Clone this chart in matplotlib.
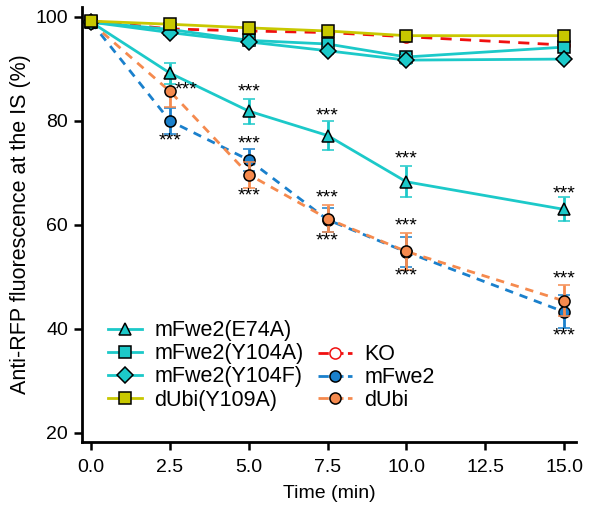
import matplotlib
matplotlib.use("Agg")
import matplotlib.pyplot as plt
from matplotlib.lines import Line2D

plt.rcParams['font.family'] = ['Liberation Sans', 'DejaVu Sans']

time = [0.0, 2.5, 5.0, 7.5, 10.0, 15.0]

e74a = [99.0, 89.2, 81.9, 77.2, 68.3, 63.0]
e74a_err = [0.8, 2.0, 2.4, 2.7, 3.0, 2.3]
y104a = [99.0, 97.6, 95.5, 94.8, 92.3, 94.2]
y104a_err = [0.5, 0.6, 0.7, 0.8, 0.8, 0.8]
y104f = [99.0, 97.0, 95.2, 93.5, 91.7, 91.9]
y104f_err = [0.5, 0.5, 0.6, 0.6, 0.7, 0.6]
dubi_y109a = [99.2, 98.6, 97.9, 97.3, 96.4, 96.4]
dubi_y109a_err = [0.4, 0.5, 0.5, 0.6, 0.7, 0.7]
ko = [99.2, 97.7, 97.3, 97.0, 96.2, 94.6]
mfwe2 = [99.0, 80.0, 72.5, 61.0, 54.8, 43.3]
mfwe2_err = [0.5, 2.5, 2.2, 2.3, 2.8, 3.2]
dubi = [98.9, 85.7, 69.7, 61.2, 54.9, 45.4]
dubi_err = [0.5, 3.0, 2.5, 2.6, 3.6, 3.0]

stars_above = [(2.5, 85.9, 'e74'), (5.0, 85.6, ''), (7.5, 81.0, ''), (10.0, 72.6, ''),
               (15.0, 66.0, ''), (5.0, 75.6, ''), (7.5, 65.2, ''), (10.0, 59.8, ''),
               (15.0, 49.7, '')]
stars_below = [(2.5, 76.2), (5.0, 65.6), (7.5, 56.9), (10.0, 50.1), (15.0, 38.6)]

cyan = '#1CC9C9'
olive = '#C8C800'
red = '#F01010'
blue = '#1A80CC'
orange = '#F58A4E'

fig = plt.figure(figsize=(5.93, 5.05), dpi=100)
ax = fig.add_axes([0.1383, 0.1248, 0.9713 - 0.1383, 0.986 - 0.1248])

lw = 2.0
ms = 8
cap = 4

def plot_series(y, err, color, marker, ls, mfc, z, dashes=None):
    kw = dict(color=color, lw=lw, ls=ls, marker=marker, ms=ms, mfc=mfc,
              mec='black' if mfc != 'white' else color, mew=1.1,
              ecolor=color, elinewidth=2, capsize=cap, capthick=2, zorder=z)
    if err is None:
        h = ax.plot(time, y, **{k: v for k, v in kw.items()
                               if k not in ('ecolor', 'elinewidth', 'capsize', 'capthick')})[0]
    else:
        h = ax.errorbar(time, y, yerr=err, **kw)
        h = h[0]
    if dashes is not None:
        h.set_dashes(dashes)
    return h

h_ko = plot_series(ko, None, red, 'o', '--', 'white', 2, dashes=(4, 3))
h_mf = plot_series(mfwe2, mfwe2_err, blue, 'o', '--', blue, 3, dashes=(3, 2.5))
h_du = plot_series(dubi, dubi_err, orange, 'o', '--', orange, 4, dashes=(3, 2.5))
h_e74 = plot_series(e74a, e74a_err, cyan, '^', '-', cyan, 5)
h_104a = plot_series(y104a, y104a_err, cyan, 's', '-', cyan, 6)
h_104f = plot_series(y104f, y104f_err, cyan, 'D', '-', cyan, 7)
h_y109 = plot_series(dubi_y109a, dubi_y109a_err, olive, 's', '-', olive, 8)

for x, y, tag in stars_above:
    xo = 0.5 if tag == 'e74' else 0.0
    ax.text(x + xo, y, '***', ha='center', va='center', fontsize=14, zorder=10)
for x, y in stars_below:
    ax.text(x, y, '***', ha='center', va='center', fontsize=14, zorder=10)

ax.set_xlim(-0.29, 15.38)
ax.set_ylim(18.27, 101.9)
ax.set_xticks([0, 2.5, 5, 7.5, 10, 12.5, 15])
ax.set_xticklabels(['0.0', '2.5', '5.0', '7.5', '10.0', '12.5', '15.0'])
ax.set_yticks([20, 40, 60, 80, 100])
ax.tick_params(axis='both', direction='out', length=6, width=1.8, labelsize=14, pad=4)
ax.tick_params(axis='x', pad=6)
for s in ['top', 'right']:
    ax.spines[s].set_visible(False)
for s in ['left', 'bottom']:
    ax.spines[s].set_linewidth(2)
ax.set_xlabel('Time (min)', fontsize=14, labelpad=7)
ax.set_ylabel('Anti-RFP fluorescence at the IS (%)', fontsize=15.5, labelpad=3)

def lh(color, marker, ls, mfc):
    return Line2D([], [], color=color, lw=lw, ls=ls, marker=marker, ms=ms, mfc=mfc,
                  mec='black' if mfc != 'white' else color, mew=1.1)

leg1 = fig.legend([lh(cyan, '^', '-', cyan), lh(cyan, 's', '-', cyan),
                   lh(cyan, 'D', '-', cyan), lh(olive, 's', '-', olive)],
                  ['mFwe2(E74A)', 'mFwe2(Y104A)', 'mFwe2(Y104F)', 'dUbi(Y109A)'],
                  loc='upper left', bbox_to_anchor=(0.182, 0.366), frameon=False,
                  fontsize=15.5, handlelength=1.6, handletextpad=0.55, labelspacing=0.1,
                  borderpad=0, borderaxespad=0)
leg2 = fig.legend([lh(red, 'o', '--', 'white'), lh(blue, 'o', '--', blue),
                   lh(orange, 'o', '--', orange)],
                  ['KO', 'mFwe2', 'dUbi'],
                  loc='upper left', bbox_to_anchor=(0.536, 0.318), frameon=False,
                  fontsize=15.5, handlelength=1.6, handletextpad=0.55, labelspacing=0.08,
                  borderpad=0, borderaxespad=0)

fig.savefig('out.png', dpi=100)
